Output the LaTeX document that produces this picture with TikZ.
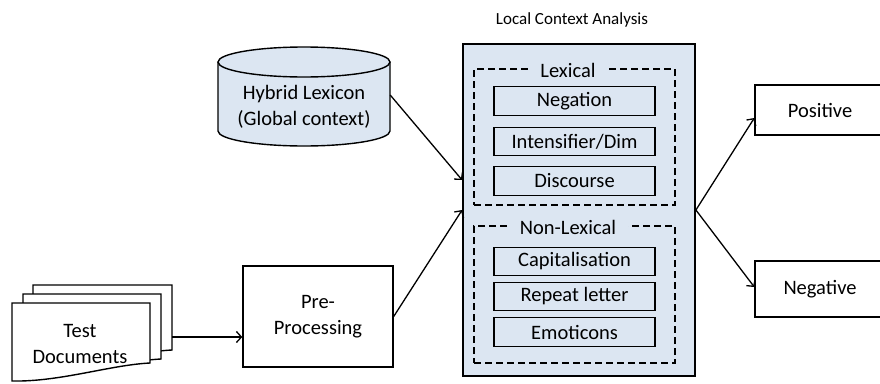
\documentclass[tikz,border=0pt]{standalone}
\usepackage{fontspec}
\setmainfont{Carlito}
\usetikzlibrary{arrows.meta,calc}
\definecolor{boxblue}{RGB}{220,230,242}
\tikzset{
  txt/.style={font=\fontsize{20.5}{26}\selectfont, align=center},
  plainbox/.style={draw, line width=1.4pt, txt, inner sep=0pt},
  subbox/.style={plainbox, fill=boxblue, minimum width=161pt, minimum height=28.5pt},
  dashbox/.style={draw, line width=1.4pt, dash pattern=on 7pt off 4pt, minimum width=201pt, inner sep=0pt},
  grouplabel/.style={txt, fill=boxblue, inner xsep=12pt, inner ysep=1pt},
  arr/.style={line width=1.3pt, -{Straight Barb[length=5pt,width=11pt,line width=1.3pt]}},
  docshape/.style={draw, fill=white, line width=1.4pt},
}
\begin{document}
\begin{tikzpicture}[x=1pt,y=-1pt]
\clip (0,0) rectangle (880,383);

% title
\node[font=\fontsize{17}{20}\selectfont] (title) at (572,20) {Local Context Analysis};

% big box
\node[draw, line width=1.8pt, fill=boxblue, minimum width=232pt, minimum height=332pt, inner sep=0pt] (lca) at (579,210) {};

% lexical group
\node[dashbox, minimum height=136pt] (lexgrp) at (574.5,137) {};
\node[grouplabel] (lexlab) at (568,70) {Lexical};
\node[subbox] (neg) at (574.5,101) {Negation};
\node[subbox] (int) at (574.5,141.5) {Intensifier/Dim};
\node[subbox] (dis) at (574.5,181) {Discourse};

% non-lexical group
\node[dashbox, minimum height=137pt] (nlexgrp) at (574.5,294.5) {};
\node[grouplabel] (nlexlab) at (568,227) {Non-Lexical};
\node[subbox] (cap) at (574.5,261.5) {Capitalisation};
\node[subbox] (rep) at (574.5,296.5) {Repeat letter};
\node[subbox] (emo) at (574.5,332) {Emoticons};

% cylinder
\path[draw, fill=boxblue, line width=1.4pt] (218,62) -- (218,131)
  .. controls (218,139.3) and (256.5,146) .. (304,146)
  .. controls (351.5,146) and (390,139.3) .. (390,131) -- (390,62);
\draw[fill=boxblue, line width=1.4pt] (304,62) ellipse [x radius=86pt, y radius=15pt];
\node[txt, minimum width=172pt, minimum height=60pt, inner sep=0pt] (hyb) at (304,106.5) {Hybrid Lexicon\\(Global context)};

% documents
\foreach \l/\t/\r/\b in {33/285/172/350, 23/294/161/359, 12/303/150/363} {
  \draw[docshape] (\l,\t) -- (\r,\t) -- (\r,\b)
    .. controls (\r-40,\b+2) and (\l+48,\b+19) .. (\l,\b+18) -- cycle;
}
\node[txt] (docs) at (80,343.5) {Test\\Documents};
\coordinate (dout) at (172,337);

% pre-processing
\node[plainbox, minimum width=150pt, minimum height=101pt] (pre) at (318,316.5) {Pre-\\Processing};

% outputs
\node[plainbox, minimum width=130pt, minimum height=50pt] (pos) at (820,110) {Positive};
\node[plainbox, minimum width=130pt, minimum height=56pt] (negv) at (820,289) {Negative};

% connectors
\draw[arr] (dout) -- (dout -| pre.west);
\draw[arr] (pre.east) -- (lca.west);
\draw[arr] (hyb.east |- 0,95) -- ($(lca.west)+(0,-30)$);
\draw[arr] (lca.east) -- ($(pos.west)+(0,8)$);
\draw[arr] (lca.east) -- ($(negv.west)+(0,-2)$);
\end{tikzpicture}
\end{document}
